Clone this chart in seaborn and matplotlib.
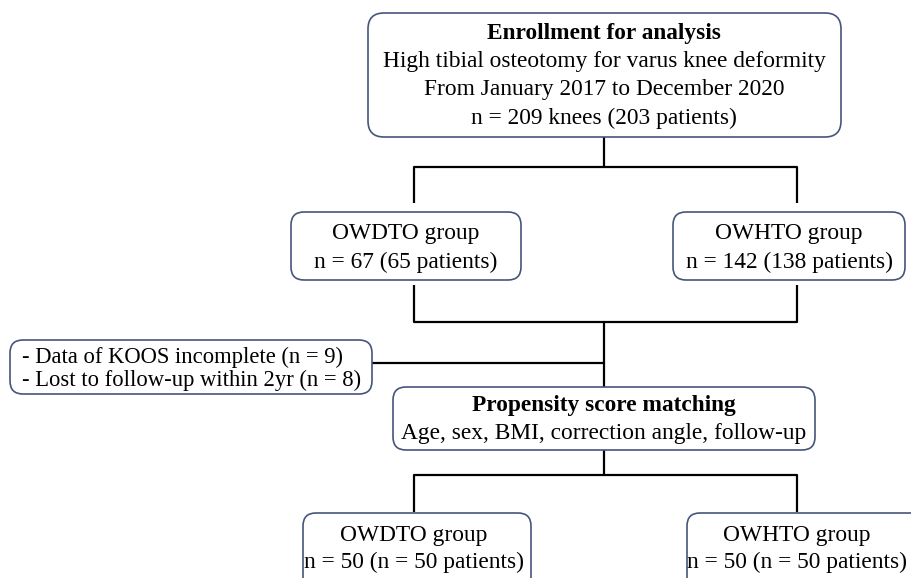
import matplotlib
matplotlib.use("Agg")
import matplotlib.pyplot as plt
import seaborn as sns
from matplotlib.patches import FancyBboxPatch

# --- text content of the flowchart ---
enroll_title = "Enrollment for analysis"
enroll_lines = ["High tibial osteotomy for varus knee deformity",
                "From January 2017 to December 2020",
                "n = 209 knees (203 patients)"]
group_names = ["OWDTO group", "OWHTO group"]
group_n_before = ["n = 67 (65 patients)", "n = 142 (138 patients)"]
excluded = ["- Data of KOOS incomplete (n = 9)",
            "- Lost to follow-up within 2yr (n = 8)"]
psm_title = "Propensity score matching"
psm_vars = "Age, sex, BMI, correction angle, follow-up"
group_n_after = ["n = 50 (n = 50 patients)", "n = 50 (n = 50 patients)"]

sns.set_style("white")
plt.rcParams['font.family'] = ['Liberation Serif', 'DejaVu Serif']
plt.rcParams['text.color'] = 'black'

fig = plt.figure(figsize=(9.11, 5.78), dpi=100)
ax = fig.add_axes([0, 0, 1, 1])
ax.set_xlim(0, 911)
ax.set_ylim(578, 0)
ax.axis("off")

edge = "#46557a"
fs = 16.8


def box(x0, y0, x1, y1, r=13):
    p = FancyBboxPatch((x0, y0), x1 - x0, y1 - y0,
                       boxstyle=f"round,pad=0,rounding_size={r}",
                       fc="white", ec=edge, lw=1.2, zorder=2)
    ax.add_patch(p)


def line(xs, ys):
    ax.plot(xs, ys, color="black", lw=1.6, zorder=1,
            solid_capstyle="butt", solid_joinstyle="round")


cx = 604
lx, rx = 414, 797

# top box
box(368, 13, 841, 137, r=16)
ax.text(cx, 33, enroll_title, ha="center", va="center", fontsize=fs, weight="bold")
for i, t in enumerate(enroll_lines):
    ax.text(cx, 62 + i * 28, t, ha="center", va="center", fontsize=fs)

# split to groups
line([cx, cx], [137, 167])
line([lx, lx, rx, rx], [203, 167, 167, 203])

group_boxes = [(291, 521), (673, 905)]
for (x0, x1), name, n in zip(group_boxes, group_names, group_n_before):
    box(x0, 212, x1, 280)
    xm = (x0 + x1) / 2
    ax.text(xm, 233, name, ha="center", va="center", fontsize=fs)
    ax.text(xm, 262, n, ha="center", va="center", fontsize=fs)

# merge
line([lx, lx, rx, rx], [285, 322, 322, 285])
line([cx, cx], [322, 387])

# exclusion box
box(10, 340, 372, 394)
for i, t in enumerate(excluded):
    ax.text(22, 357 + i * 23, t, ha="left", va="center", fontsize=16.3)
line([372, cx], [363, 363])

# propensity score box
box(393, 387, 815, 450)
ax.text(cx, 405, psm_title, ha="center", va="center", fontsize=fs, weight="bold")
ax.text(cx, 433, psm_vars, ha="center", va="center", fontsize=fs)

# split to matched groups
line([cx, cx], [450, 475])
line([lx, lx, rx, rx], [512, 475, 475, 512])

matched_boxes = [(303, 531), (687, 930)]
for (x0, x1), xm, name, n in zip(matched_boxes, [lx, rx], group_names, group_n_after):
    box(x0, 513, x1, 600)
    ax.text(xm, 535, name, ha="center", va="center", fontsize=fs)
    ax.text(xm, 562, n, ha="center", va="center", fontsize=fs)

fig.savefig("out.png", dpi=100)
